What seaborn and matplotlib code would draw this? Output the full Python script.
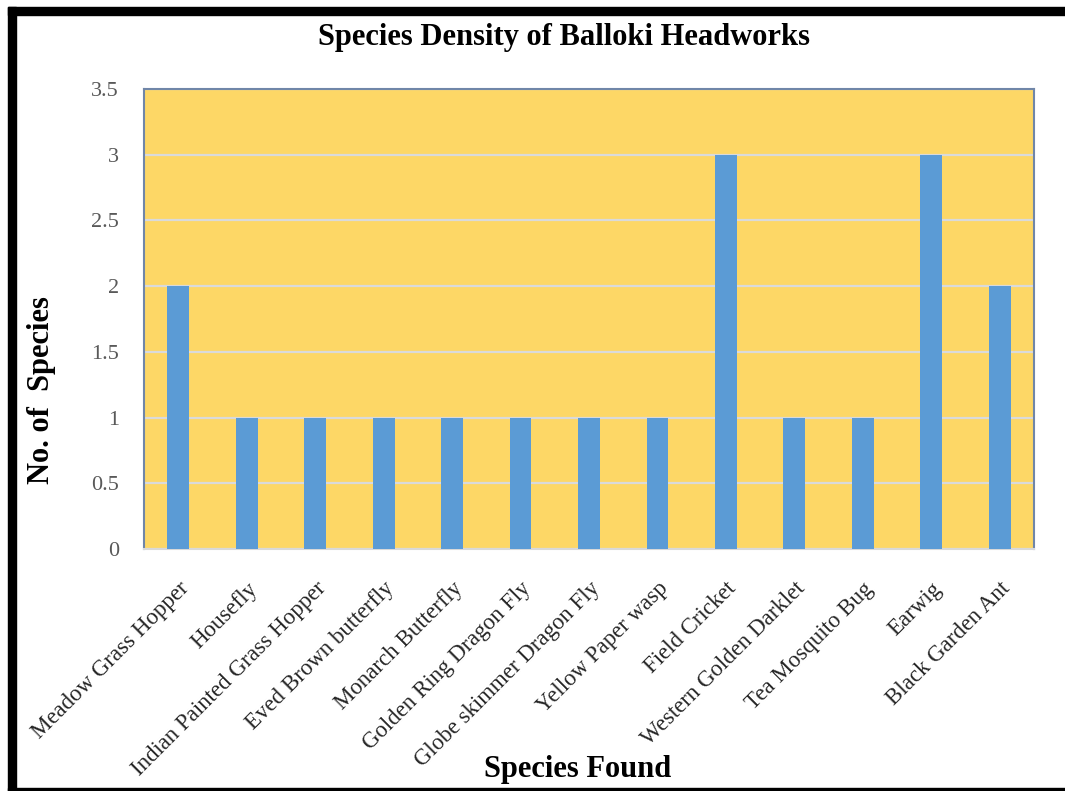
import matplotlib
matplotlib.use("Agg")
import matplotlib.pyplot as plt
import seaborn as sns
import pandas as pd
from matplotlib.patches import Rectangle

species = [
    "Meadow Grass Hopper", "Housefly", "Indian Painted Grass Hopper",
    "Eved Brown butterfly", "Monarch Butterfly", "Golden Ring Dragon Fly",
    "Globe skimmer Dragon Fly", "Yellow Paper wasp", "Field Cricket",
    "Western Golden Darklet", "Tea Mosquito Bug", "Earwig", "Black Garden Ant",
]
counts = [2, 1, 1, 1, 1, 1, 1, 1, 3, 1, 1, 3, 2]
y_ticks = [0, 0.5, 1, 1.5, 2, 2.5, 3, 3.5]
y_tick_labels = ["0", "0.5", "1", "1.5", "2", "2.5", "3", "3.5"]

df = pd.DataFrame({"Species": species, "Count": counts})

sns.set_theme(style="white")
plt.rcParams["font.family"] = ["Liberation Serif", "DejaVu Serif"]

fig = plt.figure(figsize=(10.65, 7.91), dpi=100)
fig.patch.set_facecolor("white")
ax = fig.add_axes([0.1352, 0.3059, 0.8357, 0.5816])
ax.set_facecolor("#FDD766")

sns.barplot(data=df, x="Species", y="Count", color="#5B9BD5", width=0.32,
            saturation=1, linewidth=0, ax=ax, zorder=3)

ax.set_ylim(0, 3.5)
ax.set_xlim(-0.5, len(species) - 0.5)
ax.set_yticks(y_ticks)
ax.set_yticklabels(y_tick_labels, fontsize=16, color="#595959")
ax.yaxis.grid(True, color="#DADADA", linewidth=1.6, zorder=1)
ax.set_axisbelow(True)
ax.tick_params(axis="y", length=0, pad=18)
ax.tick_params(axis="x", length=0, pad=21)

ax.set_xticks(range(len(species)))
ax.set_xticklabels(species, rotation=45, ha="right", rotation_mode="anchor",
                   fontsize=16.5, color="#262626")

for side in ["left", "top", "right"]:
    ax.spines[side].set_color("#7086A8")
    ax.spines[side].set_linewidth(1.5)
ax.spines["bottom"].set_color("#D9D9D9")
ax.spines["bottom"].set_linewidth(1.5)

ax.set_xlabel("Species Found", fontsize=22, fontweight="bold", color="black")
ax.xaxis.set_label_coords(0.4876, -0.448)
ax.set_ylabel("No. of  Species", fontsize=22, fontweight="bold", color="black")
ax.yaxis.set_label_coords(-0.099, 0.346)

fig.text(0.530, 0.952, "Species Density of Balloki Headworks", ha="center",
         va="center", fontsize=22, fontweight="bold", color="black")

# outer frame
W, H = 1065, 791
frame = [(8, 7, 1057, 8), (8, 7, 8, 784), (8, 788, 1057, 3)]
for x, y, w, h in frame:
    fig.patches.append(Rectangle((x / W, 1 - (y + h) / H), w / W, h / H,
                                 transform=fig.transFigure, color="black",
                                 zorder=10))

fig.savefig("out.png", dpi=100)
